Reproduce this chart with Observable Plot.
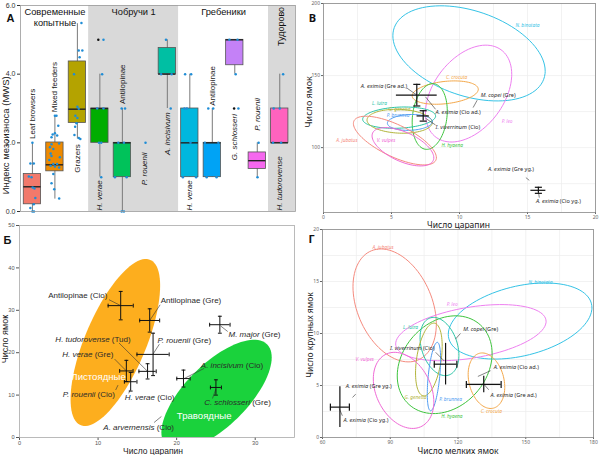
<!DOCTYPE html>
<html><head><meta charset="utf-8">
<script src="https://cdn.jsdelivr.net/npm/d3@7"></script>
<script src="https://cdn.jsdelivr.net/npm/@observablehq/plot@0.6"></script>
<style>
body{margin:0;background:#fff}
#wrap{position:relative;width:600px;height:455px;overflow:hidden;background:#fff}
.panel{position:absolute}
.panel svg{display:block;overflow:visible}
</style></head><body>
<div id="wrap">
<div class="panel" id="pA" style="left:0;top:0"></div>
<div class="panel" id="pV" style="left:300px;top:0"></div>
<div class="panel" id="pB" style="left:0;top:225px"></div>
<div class="panel" id="pG" style="left:300px;top:225px"></div>
</div>
<script>
// ================= DATA =================
// Panel A (boxplots, MWS index)
const catA = ["Leaf browsers","Mixed feeders","Grazers","H. verae","Antilopinae","P. rouenii","A. incisivum","H. verae","Antilopinae","G. schlosseri","P. rouenii","H. tudorovense"];
const colA = ["#F2796B","#EE8A00","#B4A300","#00AD00","#00C25A",null,"#00BFA3","#00B7DE","#00A3F5","#C481F7","#F567EE","#FF63BE"];
const q1A  = [0.21,1.17,2.58,2,1,null,4,1,1,4.26,1.24,2];
const medA = [0.72,1.36,2.98,3,2,null,4,2,2,5,1.48,2];
const q3A  = [1.09,2.01,4.37,3,2,null,4.76,3,2,5,1.72,3];
const loA  = [0,0.36,2.11,1,0,null,3,1,1,4,1,2];
const hiA  = [1.98,2.79,5.47,4,3,null,5,4,3,5,2,4];
const labYA = [2.11,2.89,1.96,0.03,3.13,1.72,2.89,0.03,3.08,2.84,2.35,0.03];
const labAncA = ["start","start","end","start","start","end","end","start","start","end","start","start"];
const labItA = [false,false,false,true,false,true,true,true,false,true,true,true];
// [category index, jitter, value]
const dotsA = [
 [1,0,2.0],[1,-0.09,1.4],[1,0.06,1.4],[1,-0.16,1.02],[1,-0.04,1.0],[1,0.01,0.7],[1,0.09,0.67],[1,0.13,0.39],[1,0.06,0.21],[1,-0.09,0.1],[1,0,0],[1,0.07,0],
 [2,0,2.79],[2,0.07,2.79],[2,0.15,2.5],[2,0,2.28],[2,-0.1,2.24],[2,-0.15,2.16],[2,0.1,2.21],[2,0.19,1.98],[2,-0.15,1.96],[2,-0.22,1.87],[2,-0.07,1.82],[2,-0.19,1.69],[2,-0.15,1.62],[2,0.22,1.58],[2,-0.25,1.5],[2,-0.07,1.38],[2,0.1,1.38],[2,0,1.31],[2,-0.19,1.33],[2,0.19,1.28],[2,-0.07,1.09],[2,-0.15,0.82],[2,-0.03,0.65],[2,0.19,0.38],
 [3,0.18,5.49],[3,0.06,4.69],[3,0.22,4.69],[3,0.1,4.49],[3,-0.15,4.0],[3,0,3.05],[3,0.06,2.99],[3,-0.09,2.79],[3,0,2.72],[3,-0.04,2.57],[3,-0.1,2.47],[3,-0.13,2.23],[3,0.06,2.14],[3,0.13,2.11],
 [4,0.16,5],[4,0.1,4],[4,-0.12,3],[4,0.16,3],[4,-0.04,2],[4,0.06,2],[4,0.06,1],
 [5,-0.03,3],[5,0.12,3],[5,-0.18,2],[5,0.07,2],[5,-0.33,1],[5,0.19,1],[5,-0.03,0],[5,0.07,0],
 [6,0.03,2],
 [7,-0.06,5],[7,-0.28,4],[7,0.19,4],[7,0.15,3],
 [8,-0.21,4],[8,0.06,4],[8,-0.24,3],[8,-0.13,3],[8,0.03,2],[8,-0.31,1],[8,0.28,1],
 [9,-0.18,3],[9,0.04,3],[9,-0.33,2],[9,0.27,2],[9,-0.25,1],[9,0.19,1],
 [10,-0.24,5],[10,0.12,5],[10,0.04,4],[10,0.16,3],
 [11,0.06,2],[11,0.01,1],
 [12,0.15,4],[12,-0.27,3],[12,0,3],[12,-0.3,2],[12,0.06,2]
];
const outA = [[4,-0.07,5],[10,-0.03,3]];
const bgA = [{x1:3.5,x2:7.5},{x1:11.5,x2:12.7}];
const groupLabA = [{x:2.0,t:"Современные\nкопытные"},{x:5.5,t:"Чобручи 1"},{x:9.5,t:"Гребеники"}];

// Panel Б (scratches vs pits)
const ellB = [
 {name:"Листоядные", cx:12.2, sx:5.7, cy:22.4, sy:19.7, r:0.68, color:"#FDAE1E", lx:6.6, ly:14.2, a:"start"},
 {name:"Травоядные", cx:25.08, sx:7.02, cy:10.05, sy:13.0, r:0.68, color:"#1AD23C", lx:23.5, ly:5.0, a:"middle"}
];
// [x, y, xerr, yerr]
const crossB = [[12.88,31.1,1.6,3.35],[16.57,27.6,1.27,2.75],[25.5,26.6,1.3,2.0],[17.0,19.6,2.05,5.0],[16.3,15.6,1.1,1.8],[13.6,15.7,0.85,2.5],[14.15,13.15,0.8,2.2],[20.87,13.9,0.85,2.0],[25.0,11.8,0.7,1.8]];
const labB = [
 {t:"Antilopinae|(Cio)", x:11.18, y:33.46, a:"end"},
 {t:"Antilopinae|(Gre)", x:17.98, y:32.3, a:"start"},
 {t:"M. major|(Gre)", x:26.6, y:24.4, a:"start"},
 {t:"P. rouenii|(Gre)", x:17.55, y:22.83, a:"start"},
 {t:"H. tudorovense|(Tud)", x:14.15, y:23.2, a:"end"},
 {t:"H. verae|(Gre)", x:11.94, y:19.5, a:"end"},
 {t:"H. verae|(Cio)", x:13.39, y:9.45, a:"start"},
 {t:"P. rouenii|(Cio)", x:12.15, y:10.08, a:"end"},
 {t:"A. incisivum|(Cio)", x:23.08, y:17.1, a:"start"},
 {t:"C. schlosseri|(Gre)", x:23.5, y:8.27, a:"start"},
 {t:"A. arvernensis|(Cio)", x:10.67, y:2.36, a:"start"}
];
const linkB = [[11.39,32.5,12.88,31.1],[17.9,31.3,16.57,27.6],[26.5,25.0,25.6,26.3],[17.8,22.0,17.0,19.7],[12.66,22.3,16.3,15.6],[12.1,18.5,13.6,15.7],[13.9,10.4,14.1,11.3],[12.24,11.2,12.54,12.36],[23.5,16.3,20.95,13.9],[24.56,9.2,24.99,11.4],[17.13,3.54,18.06,4.96]];

// Panel В (scratches vs pits, carnivores)
const ellV = [
 {name:"N. binotata", cx:10.7, sx:5.6, cy:165.4, sy:33, r:-0.37, color:"#35C3E6", lx:15.0, ly:184.5},
 {name:"P. leo", cx:10.67, sx:3.17, cy:137.5, sy:33.6, r:0.40, color:"#EE80F0", lx:13.5, ly:118},
 {name:"C. crocuta", cx:8.95, sx:2.43, cy:138.2, sy:8.1, r:0.28, color:"#F4A84A", lx:9.79, ly:148.6},
 {name:"H. hyaena", cx:7.81, sx:1.29, cy:121.6, sy:22.8, r:0.17, color:"#3EC43E", lx:9.47, ly:101.2},
 {name:"L. lutra", cx:5.56, sx:2.68, cy:120.8, sy:7.4, r:0.15, color:"#28C4A6", lx:4.11, ly:130.6},
 {name:"G. genetta", cx:5.6, sx:2.4, cy:118.3, sy:8.3, r:-0.1, color:"#B2B43A", lx:5.58, ly:126.2},
 {name:"P. brunnea", cx:6.35, sx:1.65, cy:117.5, sy:5.5, r:0.1, color:"#4F9CF2", lx:5.49, ly:122.5},
 {name:"A. jubatus", cx:5.25, sx:3.05, cy:104.9, sy:16.9, r:-0.7, color:"#F58A7E", lx:1.72, ly:105.1},
 {name:"V. vulpes", cx:5.84, sx:2.27, cy:100.6, sy:13.3, r:-0.57, color:"#F06AD6", lx:4.6, ly:105.1}
];
const crossV = [[6.86,136.4,1.5,7.5],[7.33,122,0.45,3.6],[15.8,70.4,0.55,2.1]];
const labV = [
 {t:"A. eximia|(Gre ad.)", x:6.15, y:142.4, a:"end"},
 {t:"A. eximia|(Cio ad.)", x:8.24, y:124.3, a:"start"},
 {t:"I. viverrinum|(Cio)", x:8.24, y:114.4, a:"start"},
 {t:"M. copei|(Gre)", x:11.56, y:136.6, a:"start"},
 {t:"A. eximia|(Gre yg.)", x:12.1, y:85, a:"start"},
 {t:"A. eximia|(Cio yg.)", x:15.62, y:63, a:"start"}
];
const linkV = [[6.15,141.2,6.89,136.3],[8.24,126.6,7.5,135.2],[8.24,115.7,7.5,120.4],[11.3,132.9,11.0,127.8],[14.88,79.2,15.13,77.3],[15.87,65.3,15.8,69.4]];
const gridXV = [0,2.5,5,7.5,10,12.5,15,17.5,20];
const gridYV = [75,100,125,150,175,200];

// Panel Г (small vs large pits)
const ellG = [
 {name:"A. jubatus", cx:91.95, sx:18.45, cy:12.7, sy:5.43, r:-0.33, color:"#F58A7E", lx:86.8, ly:18.3},
 {name:"N. binotata", cx:147.5, sx:31.8, cy:11.2, sy:3.66, r:0.35, color:"#35C3E6", lx:156.5, ly:14.9},
 {name:"P. leo", cx:125.7, sx:33.3, cy:10.08, sy:2.7, r:0.4, color:"#EE80F0", lx:117.4, ly:12.84},
 {name:"H. hyaena", cx:114.1, sx:21, cy:7.0, sy:4.7, r:0.23, color:"#3EC43E", lx:117.3, ly:2.02},
 {name:"L. lutra", cx:111.8, sx:8.6, cy:8.75, sy:2.8, r:-0.3, color:"#28C4A6", lx:99.0, ly:10.6},
 {name:"G. genetta", cx:107.1, sx:5.9, cy:7.5, sy:3.5, r:0.37, color:"#B2B43A", lx:101.2, ly:3.85},
 {name:"P. brunnea", cx:109.35, sx:2.95, cy:5.86, sy:3.29, r:0.5, color:"#4F9CF2", lx:116.7, ly:3.63},
 {name:"V. vulpes", cx:95.9, sx:13.4, cy:4.53, sy:3.66, r:-0.3, color:"#F06AD6", lx:78.7, ly:7.54},
 {name:"C. crocuta", cx:132.6, sx:8.1, cy:5.46, sy:2.67, r:-0.23, color:"#F4A84A", lx:134.8, ly:2.5}
];
const crossG = [[114.5,7.05,5.0,2.0],[131.4,5.1,7.7,0.8],[67.7,2.92,4.2,1.97]];
const labG = [
 {t:"I. viverrinum|(Cio)", x:89.9, y:8.6, a:"start"},
 {t:"M. copei|(Gre)", x:122.3, y:10.43, a:"start"},
 {t:"A. eximia|(Cio ad.)", x:135.8, y:6.74, a:"start"},
 {t:"A. eximia|(Gre ad.)", x:134.4, y:4.08, a:"start"},
 {t:"A. eximia|(Gre yg.)", x:70.3, y:4.91, a:"start"},
 {t:"A. eximia|(Cio yg.)", x:69.3, y:1.7, a:"start"}
];
const linkG = [[110.1,8.19,113.8,7.38],[121.1,10.0,118.9,9.47],[134.4,6.42,128.8,5.87],[133.6,4.59,131.4,5.14],[74.7,4.17,73.3,3.85],[68.8,2.09,67.4,2.79]];
const gridXG = [60,75,90,105,120,135,150,165,180];
const gridYG = [2.5,5,7.5,10,12.5,15,17.5,20];

// ================= HELPERS =================
const FA = "'Liberation Sans', Arial, sans-serif";
const FV = "'Noto Sans', 'Open Sans', sans-serif";
const NS = "http://www.w3.org/2000/svg";
function ellPts(list){
  const out=[];
  list.forEach(e=>{const s=Math.sqrt(1-e.r*e.r);
    for(let k=0;k<96;k++){const t=2*Math.PI*k/96;
      out.push({name:e.name,color:e.color,x:e.cx+e.sx*Math.cos(t),y:e.cy+e.sy*(e.r*Math.cos(t)+s*Math.sin(t))});}});
  return out;
}
const hbar={draw(ctx,size){const h=Math.sqrt(size)/2;ctx.moveTo(-h,0);ctx.lineTo(h,0);}};
const vbar={draw(ctx,size){const h=Math.sqrt(size)/2;ctx.moveTo(0,-h);ctx.lineTo(0,h);}};
function mixItalic(svg){
  svg.querySelectorAll("text").forEach(t=>{
    const s=t.textContent; if(s.indexOf("|")<0) return;
    const [a,b]=s.split("|");
    while(t.firstChild) t.removeChild(t.firstChild);
    const t1=document.createElementNS(NS,"tspan"); t1.textContent=a;
    if(a.indexOf(".")>=0) t1.setAttribute("font-style","italic");
    const t2=document.createElementNS(NS,"tspan"); t2.textContent=" "+b;
    t.appendChild(t1); t.appendChild(t2);
  });
}
function put(id,svg){mixItalic(svg);document.getElementById(id).appendChild(svg);}
function crossMarks(data,opt){
  const m=[
    Plot.ruleY(data,{y:d=>d[1],x1:d=>d[0]-d[2],x2:d=>d[0]+d[2],stroke:"#111",strokeWidth:opt.sw}),
    Plot.ruleX(data,{x:d=>d[0],y1:d=>d[1]-d[3],y2:d=>d[1]+d[3],stroke:"#111",strokeWidth:opt.sw})
  ];
  if(opt.vcaps){
    m.push(Plot.dot(data,{x:d=>d[0]+d[2],y:d=>d[1],symbol:vbar,r:opt.vcaps,stroke:"#111",fill:"none",strokeWidth:opt.sw}));
    m.push(Plot.dot(data,{x:d=>d[0]-d[2],y:d=>d[1],symbol:vbar,r:opt.vcaps,stroke:"#111",fill:"none",strokeWidth:opt.sw}));
  }
  if(opt.hcaps){
    m.push(Plot.dot(data,{x:d=>d[0],y:d=>d[1]+d[3],symbol:hbar,r:opt.hcaps,stroke:"#111",fill:"none",strokeWidth:opt.sw}));
    m.push(Plot.dot(data,{x:d=>d[0],y:d=>d[1]-d[3],symbol:hbar,r:opt.hcaps,stroke:"#111",fill:"none",strokeWidth:opt.sw}));
  }
  return m;
}
function labelMarks(data,fs,font){
  return ["start","end","middle"].map(a=>Plot.text(data,{filter:d=>d.a===a,x:"x",y:"y",text:"t",textAnchor:a,fontSize:fs,fill:"#2a2a2a",fontFamily:font}));
}
function linkMarks(data,sw){return Plot.link(data,{x1:d=>d[0],y1:d=>d[1],x2:d=>d[2],y2:d=>d[3],stroke:"#333",strokeWidth:sw});}
function letter(ch,dx,dy){return Plot.text([ch],{text:d=>d,frameAnchor:"top-left",textAnchor:"middle",lineAnchor:"middle",dx,dy,fontSize:11,fontWeight:"bold",fill:"#111"});}
// rotated y title: starts (bottom end) at a data position on the left frame edge and runs upward
function yTitle(t,x0,yBottom,dx,fs){return Plot.text([t],{text:d=>d,x:()=>x0,y:()=>yBottom,textAnchor:"start",lineAnchor:"middle",rotate:-90,dx,fontSize:fs,fill:"#222"});}
function xTitle(t,dx,dy,fs){return Plot.text([t],{text:d=>d,frameAnchor:"bottom",textAnchor:"middle",lineAnchor:"bottom",dx,dy,fontSize:fs,fill:"#222"});}

// ================= PANEL A =================
const boxesA = catA.map((c,k)=>({i:k+1,name:c,q1:q1A[k],med:medA[k],q3:q3A[k],lo:loA[k],hi:hiA[k],color:colA[k],ly:labYA[k],a:labAncA[k],it:labItA[k]}));
const boxOnly = boxesA.filter(d=>d.q1!=null);
const HW=0.385;
const labelA=(a,it)=>Plot.text(boxesA,{filter:d=>d.a===a&&d.it===it,x:"i",y:"ly",text:"name",rotate:-90,textAnchor:a,fontSize:8,fontStyle:it?"italic":"normal",fill:"#1a1a1a"});
put("pA", Plot.plot({
  width:300,height:225,marginLeft:20,marginRight:5,marginTop:5,marginBottom:14,
  x:{domain:[0.47,12.7],axis:null},
  y:{domain:[0,6],ticks:[0,2,4,6],tickSize:3,tickPadding:2,label:null},
  color:{type:"identity"},
  style:{fontFamily:FA,fontSize:"7px",color:"#333",background:"transparent",overflow:"visible"},
  marks:[
    Plot.rect(bgA,{x1:"x1",x2:"x2",fill:"#d9d9d9"}),
    Plot.ruleX(boxOnly,{x:"i",y1:"lo",y2:"hi",stroke:"#7a7a7a",strokeWidth:1}),
    Plot.rect(boxOnly,{x1:d=>d.i-HW,x2:d=>d.i+HW,y1:"q1",y2:"q3",fill:"color",stroke:"#555",strokeWidth:0.8}),
    Plot.ruleY(boxOnly,{y:"med",x1:d=>d.i-HW,x2:d=>d.i+HW,stroke:"#222",strokeWidth:1.4}),
    Plot.dot(dotsA,{x:d=>d[0]+d[1],y:d=>d[2],r:1.25,fill:"#1F8DD6"}),
    Plot.dot(outA,{x:d=>d[0]+d[1],y:d=>d[2],r:1.25,fill:"#111"}),
    labelA("start",false),labelA("start",true),labelA("end",false),labelA("end",true),
    Plot.text(groupLabA,{x:"x",y:()=>5.96,text:"t",lineAnchor:"top",lineHeight:1.18,fontSize:9.3,fill:"#111"}),
    Plot.text(["Тудорово"],{x:()=>12.07,y:()=>5.96,text:d=>d,rotate:-90,textAnchor:"end",fontSize:9,fill:"#111"}),
    letter("A",-10,13),
    yTitle("Индекс мезоизноса (MWS)",0.47,0.5,-15,9.5),
    Plot.frame({stroke:"#999",strokeWidth:0.8})
  ]
}));

// ================= PANEL В =================
put("pV", Plot.plot({
  width:300,height:225,marginLeft:23,marginRight:5,marginTop:3,marginBottom:13,
  x:{domain:[0,20],ticks:[0,5,10,15,20],tickSize:2,tickPadding:0.5,label:null},
  y:{domain:[55,200],ticks:[100,150,200],tickSize:2,tickPadding:1.5,label:null},
  color:{type:"identity"},
  style:{fontFamily:FV,fontSize:"5px",color:"#666",background:"transparent",overflow:"visible"},
  marks:[
    Plot.ruleX(gridXV,{stroke:"#ececec",strokeWidth:0.7}),
    Plot.ruleY(gridYV,{stroke:"#ececec",strokeWidth:0.7}),
    Plot.line(ellPts(ellV),{x:"x",y:"y",z:"name",stroke:"color",curve:"linear-closed",strokeWidth:1}),
    Plot.text(ellV,{x:"lx",y:"ly",text:"name",fill:"color",fontStyle:"italic",fontSize:4.8}),
    linkMarks(linkV,0.6),
    ...crossMarks(crossV,{sw:1.2,hcaps:4}),
    ...labelMarks(labV,5.6,FV),
    letter("В",-11,15),
    yTitle("Число ямок",0,114,-14,9),
    xTitle("Число царапин",-1,15.5,8.5),
    Plot.frame({stroke:"#888",strokeWidth:0.8})
  ]
}));

// ================= PANEL Б =================
const eb = ellB;
put("pB", Plot.plot({
  width:300,height:230,marginLeft:19,marginRight:6,marginTop:0,marginBottom:18,
  x:{domain:[0,35],ticks:[0,10,20,30],tickSize:3,tickPadding:0.5,label:null},
  y:{domain:[0,50],ticks:[0,10,20,30,40,50],tickSize:3,tickPadding:2,label:null},
  color:{type:"identity"},
  style:{fontFamily:FA,fontSize:"5.6px",color:"#555",background:"transparent",overflow:"visible"},
  marks:[
    Plot.line(ellPts([eb[0]]),{x:"x",y:"y",curve:"linear-closed",fill:eb[0].color,stroke:"none",clip:true}),
    Plot.line(ellPts([eb[1]]),{x:"x",y:"y",curve:"linear-closed",fill:eb[1].color,stroke:"none",clip:true}),
    linkMarks(linkB,0.6),
    ...crossMarks(crossB,{sw:1,vcaps:2.2,hcaps:2.2}),
    ...labelMarks(labB,8,FA),
    Plot.text(eb,{filter:d=>d.a==="start",x:"lx",y:"ly",text:"name",textAnchor:"start",fill:"white",fontSize:9.6}),
    Plot.text(eb,{filter:d=>d.a==="middle",x:"lx",y:"ly",text:"name",fill:"white",fontSize:9.6}),
    letter("Б",-12,15),
    yTitle("Число ямок",0,17.5,-14,9),
    xTitle("Число царапин",-4,16,8.5),
    Plot.frame({stroke:"#aaa",strokeWidth:0.8})
  ]
}));

// ================= PANEL Г =================
put("pG", Plot.plot({
  width:300,height:230,marginLeft:22,marginRight:7,marginTop:4,marginBottom:18,
  x:{domain:[60,180],ticks:[60,90,120,150,180],tickSize:2,tickPadding:1,label:null},
  y:{domain:[0,20],ticks:[0,5,10,15,20],tickSize:2,tickPadding:1.5,label:null},
  color:{type:"identity"},
  style:{fontFamily:FV,fontSize:"5px",color:"#666",background:"transparent",overflow:"visible"},
  marks:[
    Plot.ruleX(gridXG,{stroke:"#ececec",strokeWidth:0.7}),
    Plot.ruleY(gridYG,{stroke:"#ececec",strokeWidth:0.7}),
    Plot.line(ellPts(ellG),{x:"x",y:"y",z:"name",stroke:"color",curve:"linear-closed",strokeWidth:1}),
    Plot.text(ellG,{x:"lx",y:"ly",text:"name",fill:"color",fontStyle:"italic",fontSize:4.8}),
    linkMarks(linkG,0.6),
    ...crossMarks(crossG,{sw:1.2,vcaps:4}),
    ...labelMarks(labG,5.6,FV),
    letter("Г",-11,10),
    yTitle("Число крупных ямок",60,5.75,-12,8.5),
    xTitle("Число мелких ямок",0,16,8.5),
    Plot.frame({stroke:"#888",strokeWidth:0.8})
  ]
}));
</script>
</body></html>
